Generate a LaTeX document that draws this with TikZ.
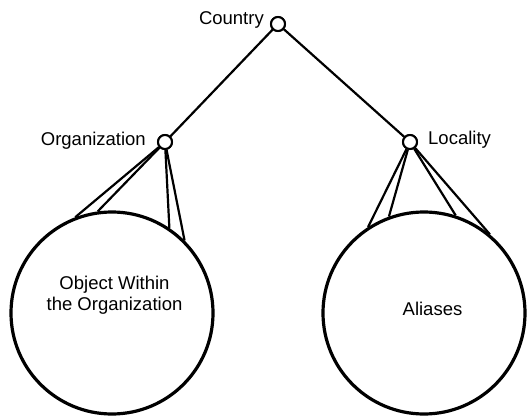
\documentclass[tikz,border=0pt]{standalone}
\usepackage{fontspec}
\setmainfont{Liberation Sans}
\begin{document}
\begin{tikzpicture}[x=1pt,y=-1pt,
  lbl/.style={font=\fontsize{18.5}{20.5}\selectfont, inner sep=0pt},
  knot/.style={circle, draw, line width=2pt, minimum size=14pt, inner sep=0pt, fill=white},
  ball/.style={circle, draw, line width=3.2pt, minimum size=202pt, inner sep=0pt},
  link/.style={line width=2.2pt},
]
\useasboundingbox (0,0) rectangle (528,417);

% nodes of the tree
\node[knot] (country) at (278,24) {};
\node[knot] (org) at (165,142) {};
\node[knot] (loc) at (410,142) {};

% the two subtrees drawn as large circles
\node[ball] (obj) at (112,313) {};
\node[ball] (ali) at (424,313) {};

% labels
\node[lbl, anchor=base east] (tcountry) at (264,25) {Country};
\node[lbl, anchor=base east] (torg) at (146,146) {Organization};
\node[lbl, anchor=base west] (tloc) at (428,145) {Locality};
\node[lbl, align=center, anchor=base] (tobj) at (114.5,310) {Object Within\\the Organization};
\node[lbl, anchor=base] (tali) at (432.5,315) {Aliases};

% tree edges
\draw[link] (country) -- (org);
\draw[link] (country) -- (loc);

% edges into the subtree circles
\draw[link] (org) -- (obj.111);
\draw[link] (org) -- (obj.98);
\draw[link] (org) -- (obj.56);
\draw[link] (org) -- (obj.45);

\draw[link] (loc) -- (ali.123);
\draw[link] (loc) -- (ali.110);
\draw[link] (loc) -- (ali.72);
\draw[link] (loc) -- (ali.50);

% redraw the small knots on top
\node[knot] at (org) {};
\node[knot] at (loc) {};
\node[knot] at (country) {};
\end{tikzpicture}
\end{document}
